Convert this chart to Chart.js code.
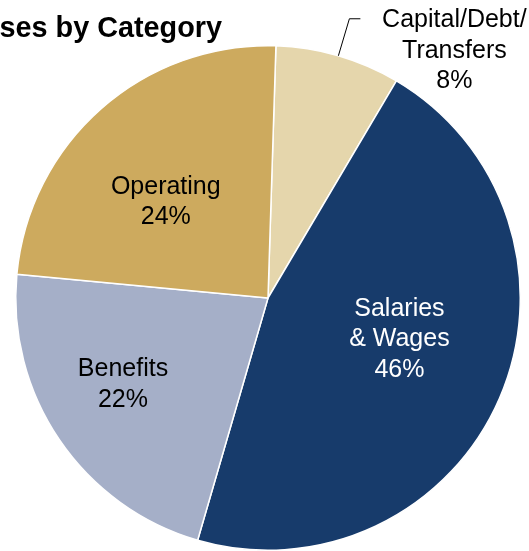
<!DOCTYPE html>
<html>
<head>
<meta charset="utf-8">
<script src="https://cdn.jsdelivr.net/npm/chart.js@4/dist/chart.umd.min.js"></script>
<style>
  body { margin: 0; background: #fff; }
</style>
</head>
<body>
<canvas id="pie" width="529" height="551"></canvas>
<script>
const categories = ["Capital/Debt/\nTransfers", "Salaries\n& Wages", "Benefits", "Operating"];
const shares = [8, 46, 22, 24];
const sliceColors = ["#E5D6AC", "#173B6B", "#A5AFC8", "#CDAA5E"];
const titleText = "ses by Category";

// label placement: fraction of radius, angle nudge (deg), text colour
const labelStyle = [
  { outside: true, color: "#000" },
  { frac: 0.546, nudge: -6, color: "#fff" },
  { frac: 0.67, nudge: 3.3, color: "#000" },
  { frac: 0.555, nudge: -5.5, color: "#000" },
];

const sliceLabels = {
  id: "sliceLabels",
  afterDatasetsDraw(chart) {
    const ctx = chart.ctx;
    const arcs = chart.getDatasetMeta(0).data;
    ctx.save();
    ctx.font = "25px 'Liberation Sans', Arial, sans-serif";
    ctx.textAlign = "center";
    ctx.textBaseline = "middle";
    arcs.forEach((arc, i) => {
      const p = arc.getProps(["x", "y", "startAngle", "endAngle", "outerRadius"], true);
      const mid = (p.startAngle + p.endAngle) / 2;
      const st = labelStyle[i];
      const lines = (categories[i] + "\n" + shares[i] + "%").split("\n");
      let cx, cy;
      if (st.outside) {
        // leader line from the rim up and to the right
        const ex = p.x + Math.cos(mid) * p.outerRadius;
        const ey = p.y + Math.sin(mid) * p.outerRadius;
        ctx.strokeStyle = "#000";
        ctx.lineWidth = 1;
        ctx.beginPath();
        ctx.moveTo(ex, ey);
        ctx.lineTo(ex + 11, ey - 37);
        ctx.lineTo(ex + 22, ey - 37);
        ctx.stroke();
        cx = ex + 116;
        cy = ey - 5;
      } else {
        const a = mid + st.nudge * Math.PI / 180;
        cx = p.x + Math.cos(a) * p.outerRadius * st.frac;
        cy = p.y + Math.sin(a) * p.outerRadius * st.frac;
      }
      ctx.fillStyle = st.color;
      const lh = 30.5;
      const top = cy - (lines.length - 1) * lh / 2;
      lines.forEach((t, k) => ctx.fillText(t, cx, top + k * lh));
    });
    // title, cut at the left edge like the original
    ctx.fillStyle = "#000";
    ctx.font = "bold 28.8px 'Liberation Sans', Arial, sans-serif";
    ctx.textAlign = "right";
    ctx.textBaseline = "alphabetic";
    ctx.fillText(titleText, 222, 37);
    ctx.restore();
  }
};

new Chart(document.getElementById("pie"), {
  type: "pie",
  data: {
    labels: categories,
    datasets: [
      {
        data: shares,
        backgroundColor: sliceColors,
        borderColor: "#fff",
        borderWidth: 1.5,
      },
    ],
  },
  options: {
    responsive: false,
    animation: false,
    rotation: 1.8,
    layout: { padding: { left: 15, right: 8, top: 45, bottom: 0 } },
    plugins: {
      legend: { display: false },
      tooltip: { enabled: false },
      title: { display: false },
    },
  },
  plugins: [sliceLabels],
});
</script>
</body>
</html>
